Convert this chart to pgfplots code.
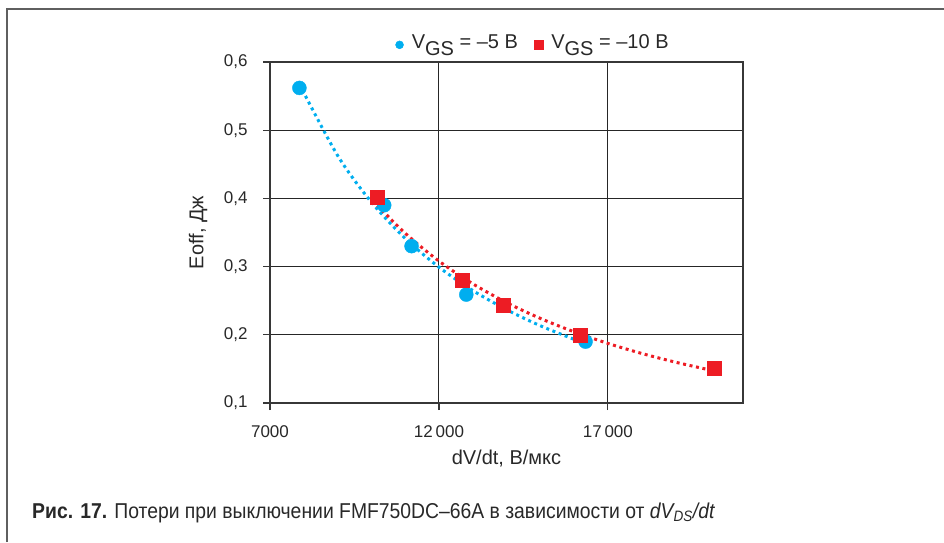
\documentclass[border=0pt]{standalone}
\usepackage{pgfplots}
\pgfplotsset{compat=1.18}
\usepackage{fontspec}
\setmainfont{Liberation Sans}
\newfontfamily\capfont[FakeStretch=0.9]{Liberation Sans}
\definecolor{cblue}{RGB}{0,174,239}
\definecolor{cred}{RGB}{237,28,36}
\definecolor{axgray}{RGB}{55,55,55}
\definecolor{txt}{RGB}{40,40,40}
\begin{document}
\begin{tikzpicture}
\path[use as bounding box] (0,0) rectangle (944pt,-542pt);
\draw[axgray!80, line width=1.8pt] (7pt,-542pt) -- (7pt,-9pt) -- (944pt,-9pt);
\begin{axis}[
  at={(270pt,-403pt)}, anchor=south west,
  scale only axis, width=473pt, height=341pt,
  xmin=7000, xmax=21000, ymin=0.1, ymax=0.6,
  scaled x ticks=false, scaled y ticks=false,
  xtick={7000,12000,17000}, xticklabels={7000,12\,000,17\,000},
  ytick={0.1,0.2,0.3,0.4,0.5,0.6},
  yticklabels={{0,1},{0,2},{0,3},{0,4},{0,5},{0,6}},
  grid=major, major grid style={black!85, line width=0.9pt},
  axis line style={axgray, line width=1.5pt},
  tick style={axgray, line width=1.2pt}, tick align=outside, major tick length=7pt,
  tick pos=left,
  ticklabel style={font=\fontsize{17}{20}\selectfont, text=txt},
  xticklabel style={yshift=-12pt},
  yticklabel style={xshift=-12pt},
  xlabel={dV/dt, В/мкс}, ylabel={Eoff, Дж},
  label style={font=\fontsize{20}{23}\selectfont, text=txt},
  xlabel style={at={(axis description cs:0.5,-0.163)}, anchor=center},
  ylabel style={at={(axis description cs:-0.152,0.5)}, anchor=center},
  legend style={at={(0.556,1.0587)}, anchor=center, draw=none, fill=none,
    font=\fontsize{20}{23}\selectfont, text=txt},
  legend columns=2,
  /tikz/every even column/.append style={column sep=14pt},
  /tikz/every odd column/.append style={column sep=6pt},
]
\addplot[cblue, line width=3pt, dash pattern=on 3pt off 3.6pt, smooth, forget plot] coordinates {
(7870,0.5675) (9000,0.463) (10000,0.3946) (11000,0.3415) (12000,0.2992)
(13000,0.265) (14000,0.2369) (15000,0.2133) (16000,0.1934) (16340,0.1873)};
\addplot[cred, line width=3pt, dash pattern=on 3pt off 3.6pt, smooth, forget plot] coordinates {
(10180,0.3897) (11000,0.349) (12000,0.3081) (13000,0.2749) (14000,0.2473)
(15000,0.2241) (16000,0.2044) (17000,0.1874) (18000,0.1727) (19000,0.1599) (20140,0.1471)};
\addplot[only marks, mark=*, mark size=7pt, draw=cblue, fill=cblue,
  legend image code/.code={\fill[cblue] (0cm,-0.1cm) circle (4pt);}] coordinates {
(7870,0.562) (10380,0.390) (11190,0.330) (12810,0.259) (16340,0.190)};
\addlegendentry{V\raisebox{-0.35em}{GS} = –5 В}
\addplot[only marks, mark=square*, mark size=7pt, draw=cred, fill=cred,
  legend image code/.code={\fill[cred] (-4.5pt,-0.1cm-4.5pt) rectangle (4.5pt,-0.1cm+4.5pt);}] coordinates {
(10175,0.4016) (12700,0.280) (13905,0.243) (16194,0.200) (20138,0.151)};
\addlegendentry{V\raisebox{-0.35em}{GS} = –10 В}
\end{axis}
\node[anchor=base west, inner sep=0, text=txt] at (32pt,-518pt)
  {\capfont\fontsize{21.5}{25}\selectfont \textbf{Рис. 17.} Потери при выключении FMF750DC–66A в зависимости от \textit{dV\textsubscript{DS}/dt}};
\end{tikzpicture}
\end{document}
